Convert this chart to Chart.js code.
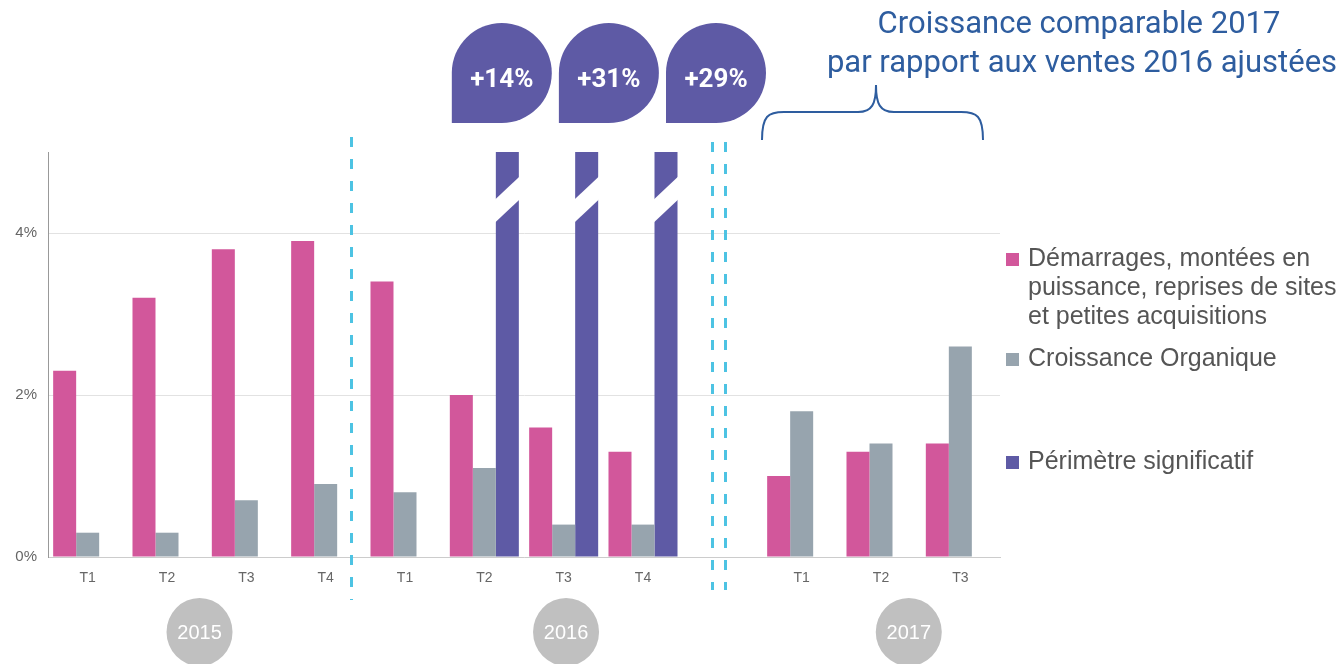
<!DOCTYPE html>
<html>
<head>
<meta charset="utf-8">
<script src="https://cdn.jsdelivr.net/npm/chart.js@4.4.1/dist/chart.umd.min.js"></script>
<style>
  html, body { margin: 0; padding: 0; background: #ffffff; }
  #wrap { width: 1339px; height: 664px; position: relative; }
</style>
</head>
<body>
<div id="wrap"><canvas id="c" width="1339" height="664"></canvas></div>
<script>
// ---- Data ----
const categories = ['T1', 'T2', 'T3', 'T4', 'T1', 'T2', 'T3', 'T4', '', 'T1', 'T2', 'T3'];
const demarrages = [2.3, 3.2, 3.8, 3.9, 3.4, 2.0, 1.6, 1.3, null, 1.0, 1.3, 1.4];
const organique  = [0.3, 0.3, 0.7, 0.9, 0.8, 1.1, 0.4, 0.4, null, 1.8, 1.4, 2.6];
const perimetre  = [null, null, null, null, null, 14, 31, 29, null, null, null, null];
const seriesLabels = [
  ['Démarrages, montées en', 'puissance, reprises de sites', 'et petites acquisitions'],
  ['Croissance Organique'],
  ['Périmètre significatif']
];
const yTickValues = [0, 2, 4];
const years = ['2015', '2016', '2017'];
const titleLines = ['Croissance comparable 2017', 'par rapport aux ventes 2016 ajustées'];

const COLORS = ['#d2579b', '#97a4ae', '#5e5aa5'];

// ---- Annotation plugin ----
const annotations = {
  id: 'annotations',
  afterDatasetsDraw(chart) {
    const ctx = chart.ctx;
    const y = chart.scales.y;
    // white diagonal break on the truncated purple bars
    const meta = chart.getDatasetMeta(2);
    meta.data.forEach((el, i) => {
      if (perimetre[i] == null) return;
      const l = el.x - el.width / 2 - 1, r = el.x + el.width / 2 + 1;
      const yl = y.getPixelForValue(4.27), yr = y.getPixelForValue(4.56);
      const th = 23;
      ctx.save();
      ctx.fillStyle = '#ffffff';
      ctx.beginPath();
      ctx.moveTo(l, yl - th / 2);
      ctx.lineTo(r, yr - th / 2);
      ctx.lineTo(r, yr + th / 2);
      ctx.lineTo(l, yl + th / 2);
      ctx.closePath();
      ctx.fill();
      ctx.restore();
    });
  },
  afterDraw(chart) {
    const ctx = chart.ctx;
    const x = chart.scales.x;

    // dashed separators
    ctx.save();
    ctx.strokeStyle = '#4dc3e3';
    ctx.lineWidth = 3;
    ctx.setLineDash([10, 12]);
    const seps = [[3.32, 137, 600], [7.87, 142, 590], [8.03, 142, 590]];
    seps.forEach(([v, y0, y1]) => {
      const px = Math.round(x.getPixelForValue(v)) + 0.5;
      ctx.beginPath();
      ctx.moveTo(px, y0);
      ctx.lineTo(px, y1);
      ctx.stroke();
    });
    ctx.restore();

    // bubbles with purple values
    const bubbleCenters = [5.22, 6.57, 7.92];
    let bi = 0;
    perimetre.forEach((v) => {
      if (v == null) return;
      const cx = x.getPixelForValue(bubbleCenters[bi++]);
      const cy = 73, r = 50;
      ctx.save();
      ctx.fillStyle = '#5e5aa5';
      ctx.beginPath();
      ctx.arc(cx, cy, r, Math.PI, Math.PI / 2, false);
      ctx.lineTo(cx - r, cy + r);
      ctx.closePath();
      ctx.fill();
      ctx.fillStyle = '#ffffff';
      ctx.font = 'bold 26px Roboto';
      ctx.textAlign = 'center';
      ctx.textBaseline = 'alphabetic';
      ctx.fillText('+' + v + '%', cx, 87);
      ctx.restore();
    });

    // title text
    ctx.save();
    ctx.fillStyle = '#2e5d9f';
    ctx.font = '31px Roboto';
    ctx.textAlign = 'center';
    ctx.textBaseline = 'alphabetic';
    ctx.fillText(titleLines[0], 1079, 33);
    ctx.fillText(titleLines[1], 1082, 72);
    ctx.restore();

    // curly brace
    ctx.save();
    ctx.strokeStyle = '#2e5d9f';
    ctx.lineWidth = 2;
    const bl = 762, br = 983, tip = 876, by = 112, bt = 85, bb = 140;
    ctx.beginPath();
    ctx.moveTo(bl, bb);
    ctx.bezierCurveTo(bl, by + 4, bl + 6, by, bl + 22, by);
    ctx.lineTo(tip - 18, by);
    ctx.bezierCurveTo(tip - 4, by, tip, by - 8, tip, bt);
    ctx.bezierCurveTo(tip, by - 8, tip + 4, by, tip + 18, by);
    ctx.lineTo(br - 22, by);
    ctx.bezierCurveTo(br - 6, by, br, by + 4, br, bb);
    ctx.stroke();
    ctx.restore();

    // year circles
    const yearPos = [1.41, 6.03, 10.35];
    years.forEach((yr, i) => {
      const cx = x.getPixelForValue(yearPos[i]);
      const cy = 632;
      ctx.save();
      ctx.fillStyle = '#c0c0c0';
      ctx.beginPath();
      ctx.ellipse(cx, cy, 33, 34, 0, 0, Math.PI * 2);
      ctx.fill();
      ctx.fillStyle = '#ffffff';
      ctx.font = '20px "Liberation Sans", Arial';
      ctx.textAlign = 'center';
      ctx.textBaseline = 'middle';
      ctx.fillText(yr, cx, cy + 1);
      ctx.restore();
    });

    // custom legend
    const lx = 1006, tx = 1028;
    const rows = [[259, 288, 317], [359], [462]];
    ctx.save();
    ctx.font = '25px "Liberation Sans", Arial';
    ctx.textBaseline = 'middle';
    ctx.textAlign = 'left';
    chart.data.datasets.forEach((ds, i) => {
      ctx.fillStyle = ds.backgroundColor;
      ctx.fillRect(lx, rows[i][0] - 6, 13, 13);
      ctx.fillStyle = '#555555';
      ds.legendLines.forEach((t, j) => ctx.fillText(t, tx, rows[i][j]));
    });
    ctx.restore();
  }
};

new Chart(document.getElementById('c'), {
  type: 'bar',
  data: {
    labels: categories,
    datasets: [
      { label: seriesLabels[0].join(' '), legendLines: seriesLabels[0], data: demarrages, backgroundColor: COLORS[0] },
      { label: seriesLabels[1].join(' '), legendLines: seriesLabels[1], data: organique, backgroundColor: COLORS[1] },
      { label: seriesLabels[2].join(' '), legendLines: seriesLabels[2], data: perimetre, backgroundColor: COLORS[2] }
    ]
  },
  options: {
    responsive: false,
    animation: false,
    devicePixelRatio: 1,
    layout: { padding: { top: 152, right: 339, left: 0, bottom: 0 } },
    datasets: { bar: { barPercentage: 1.0, categoryPercentage: 0.87 } },
    plugins: { legend: { display: false }, tooltip: { enabled: false }, title: { display: false } },
    scales: {
      x: {
        grid: { display: false, drawTicks: false },
        border: { display: true, color: '#cccccc', width: 1 },
        ticks: { color: '#666666', font: { family: '"Liberation Sans", Arial', size: 14 }, padding: 13 },
        afterFit(s) { s.height = 107; }
      },
      y: {
        min: 0, max: 5,
        afterBuildTicks(s) { s.ticks = yTickValues.map(v => ({ value: v })); },
        grid: { color: '#e2e2e2', drawTicks: false },
        border: { display: true, color: '#999999', width: 1 },
        ticks: { color: '#666666', font: { family: '"Liberation Sans", Arial', size: 15 }, padding: 11,
                 callback: v => v + '%' },
        afterFit(s) { s.width = 48; }
      }
    }
  },
  plugins: [annotations]
});
</script>
</body>
</html>
